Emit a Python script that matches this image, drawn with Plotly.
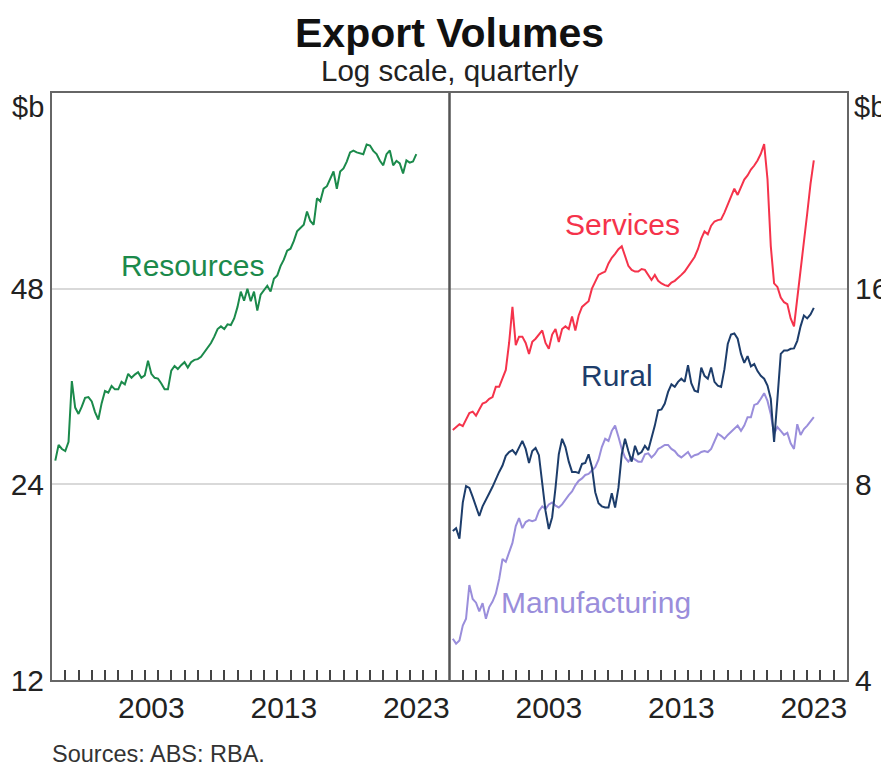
import numpy as np
import pandas as pd
import plotly.graph_objects as go
from plotly.subplots import make_subplots

# Quarterly export volumes, $b
quarters = pd.date_range("1996-04-01", periods=110, freq="QS")

resources = [
    26.1, 27.6, 27.2, 27.0, 27.9, 34.6, 31.5, 30.8, 31.6, 32.6,
    32.7, 32.2, 31.0, 30.2, 32.0, 33.4, 33.2, 34.0, 33.6, 33.6,
    34.5, 34.2, 35.5, 35.0, 35.4, 35.7, 35.0, 35.3, 37.2, 35.5,
    35.0, 34.9, 34.3, 33.6, 33.6, 35.9, 36.5, 36.1, 36.6, 37.0,
    36.3, 37.0, 37.3, 37.4, 37.7, 38.3, 38.8, 39.6, 40.5, 41.6,
    42.0, 41.6, 42.3, 42.2, 43.2, 45.0, 47.5, 46.0, 48.0, 45.9,
    47.5, 44.4, 47.0, 47.8, 48.5, 47.5, 49.7, 50.3, 52.0, 53.2,
    54.9, 55.3, 56.8, 58.8, 59.4, 60.2, 63.1, 61.0, 60.2, 66.1,
    65.4, 68.4, 69.0, 70.9, 72.7, 68.4, 72.7, 73.5, 75.3, 77.8,
    78.3, 77.8, 77.6, 77.3, 80.0, 79.7, 78.2, 77.3, 75.5, 74.3,
    77.3, 78.3, 74.3, 75.5, 74.8, 72.2, 75.6, 75.0, 75.3, 77.3,
]

services = [
    9.7, 9.8, 9.9, 9.83, 10.07, 10.3, 10.35, 10.2, 10.43, 10.65,
    10.7, 10.83, 10.9, 11.3, 11.3, 11.63, 12.0, 13.2, 15.0, 13.1,
    13.5, 13.5, 13.2, 12.7, 13.25, 13.4, 13.6, 13.8, 13.2, 12.93,
    13.6, 13.87, 13.25, 13.87, 14.0, 13.87, 14.5, 13.8, 14.55, 15.0,
    15.15, 15.3, 16.0, 16.45, 16.8, 16.9, 17.0, 17.5, 17.85, 18.1,
    18.4, 18.6, 17.9, 17.35, 17.1, 17.0, 17.0, 17.15, 17.1, 16.75,
    16.5, 16.8, 16.45, 16.3, 16.2, 16.15, 16.35, 16.45, 16.6, 16.8,
    17.0, 17.3, 17.55, 17.9, 18.4, 19.1, 19.6, 19.4, 20.0, 20.3,
    20.4, 20.45, 20.95, 21.6, 22.1, 22.8, 22.3, 22.95, 23.55, 23.9,
    24.4, 24.75, 25.2, 25.8, 26.7, 23.6, 18.6, 16.3, 16.1, 15.5,
    15.25, 15.15, 14.4, 14.0, 15.4, 17.1, 18.8, 20.9, 23.2, 25.2,
]

rural = [
    6.78, 6.85, 6.6, 7.5, 7.95, 7.9, 7.65, 7.37, 7.15, 7.4,
    7.59, 7.75, 7.93, 8.15, 8.36, 8.55, 8.85, 8.97, 9.03, 8.9,
    9.1, 9.33, 9.07, 8.63, 9.0, 9.1, 8.87, 8.1, 7.28, 6.83,
    7.12, 7.9, 8.9, 9.4, 9.13, 8.67, 8.36, 8.36, 8.33, 8.6,
    8.63, 8.9, 8.5, 7.78, 7.48, 7.4, 7.37, 7.37, 7.75, 7.37,
    7.9, 8.9, 9.4, 9.0, 8.67, 9.17, 8.9, 8.97, 9.17, 9.03,
    9.4, 9.85, 10.4, 10.43, 10.65, 11.1, 11.4, 11.3, 11.5, 11.63,
    11.5, 12.2, 11.45, 11.15, 11.1, 12.1, 11.75, 11.63, 12.1, 11.5,
    11.35, 11.3, 12.03, 13.15, 13.6, 13.65, 13.4, 12.7, 12.3, 12.6,
    12.15, 12.25, 11.95, 11.75, 11.63, 11.35, 10.83, 9.3, 10.83, 12.7,
    12.85, 12.85, 12.93, 12.95, 13.3, 14.0, 14.55, 14.4, 14.6, 14.95,
]

manufacturing = [
    4.63, 4.55, 4.6, 4.85, 4.97, 5.6, 5.33, 5.26, 5.1, 5.25,
    4.97, 5.18, 5.28, 5.43, 5.72, 6.14, 6.08, 6.3, 6.5, 6.9,
    7.1, 6.85, 7.0, 7.05, 7.02, 7.05, 7.28, 7.4, 7.33, 7.45,
    7.5, 7.42, 7.37, 7.45, 7.59, 7.7, 7.8, 7.97, 8.1, 8.17,
    8.27, 8.3, 8.4, 8.5, 8.73, 9.13, 9.4, 9.33, 9.67, 9.85,
    9.47, 9.07, 8.8, 8.67, 8.8, 8.73, 8.67, 8.67, 8.9, 8.93,
    8.8, 8.9, 9.07, 9.13, 9.2, 9.2, 9.07, 9.0, 8.87, 8.8,
    8.9, 8.97, 8.8, 8.87, 8.9, 8.97, 9.0, 8.97, 9.07, 9.33,
    9.57, 9.5, 9.4, 9.53, 9.63, 9.73, 9.85, 9.67, 9.85, 10.15,
    10.15, 10.6, 10.65, 10.83, 11.05, 10.75, 10.25, 9.57, 9.8, 9.67,
    9.53, 9.6, 9.25, 9.07, 9.9, 9.53, 9.73, 9.85, 10.0, 10.15,
]

year_labels = ["2003", "2013", "2023"]
left_ticks = [12, 24, 48]
right_ticks = [4, 8, 16]

GREEN = "#1b8a4b"
RED = "#f5334b"
NAVY = "#1d3d6b"
LAVENDER = "#9a8edb"
FRAME = "#666666"
FONT = "Liberation Sans, Arial, sans-serif"

fig = make_subplots(rows=1, cols=2, horizontal_spacing=0)

fig.add_trace(go.Scatter(x=quarters, y=resources, mode="lines",
                         line=dict(color=GREEN, width=2)), row=1, col=1)
fig.add_trace(go.Scatter(x=quarters, y=services, mode="lines",
                         line=dict(color=RED, width=2)), row=1, col=2)
fig.add_trace(go.Scatter(x=quarters, y=manufacturing, mode="lines",
                         line=dict(color=LAVENDER, width=2)), row=1, col=2)
fig.add_trace(go.Scatter(x=quarters, y=rural, mode="lines",
                         line=dict(color=NAVY, width=2)), row=1, col=2)

label_dates = [f"{y}-07-01" for y in year_labels]
minor_dates = [f"{y}-01-01" for y in range(1997, 2026)]
fig.update_xaxes(
    type="date", range=["1996-01-01", "2026-01-01"],
    tickvals=label_dates, ticktext=year_labels, ticks="",
    showgrid=False, zeroline=False, automargin=False,
    showline=True, mirror=True, linecolor=FRAME, linewidth=2,
    tickfont=dict(size=30, color="#222"),
    minor=dict(tickvals=minor_dates, ticks="inside", ticklen=10,
               tickcolor="#444", tickwidth=1.5, showgrid=False),
)

ycommon = dict(
    type="log", ticks="", showgrid=True, gridcolor="#d9d9d9", gridwidth=1.5,
    zeroline=False, showline=True, linecolor=FRAME, linewidth=2, automargin=False,
    tickfont=dict(size=30, color="#222"),
)
fig.update_yaxes(range=[np.log10(12), np.log10(96)], tickvals=left_ticks,
                 ticktext=[str(v) for v in left_ticks], **ycommon, row=1, col=1)
fig.update_yaxes(range=[np.log10(4), np.log10(32)], tickvals=right_ticks,
                 ticktext=[str(v) for v in right_ticks], side="right",
                 **ycommon, row=1, col=2)

# panel divider
fig.add_shape(type="line", xref="paper", yref="paper", x0=0.5, x1=0.5, y0=0, y1=1,
              line=dict(color="#555555", width=2.5))

def note(text, x, y, size=30, color="#222", xanchor="center"):
    fig.add_annotation(text=text, x=x, y=y, xref="paper", yref="paper",
                       xanchor=xanchor, yanchor="middle", showarrow=False,
                       font=dict(size=size, color=color, family=FONT))

note("<b>Export Volumes</b>", 0.5, 1.1022, size=41, color="#111")
note("Log scale, quarterly", 0.5, 1.039, size=29.5)
note("$b", -0.008, 0.976, size=29, xanchor="right")
note("$b", 1.006, 0.976, size=29, xanchor="left")
note("Resources", 0.1767, 0.7053, color=GREEN)
note("Services", 0.717, 0.7768, color=RED)
note("Rural", 0.7107, 0.5179, color=NAVY)
note("Manufacturing", 0.6843, 0.1312, color=LAVENDER)
note("Sources: ABS: RBA.", -0.0025, -0.1261, size=23.5, color="#333", xanchor="left")

fig.update_layout(
    width=881, height=762,
    margin=dict(l=44, r=42, t=85, b=90),
    showlegend=False,
    plot_bgcolor="white", paper_bgcolor="white",
    font=dict(family=FONT, color="#222"),
)

fig.write_html("out.html")
